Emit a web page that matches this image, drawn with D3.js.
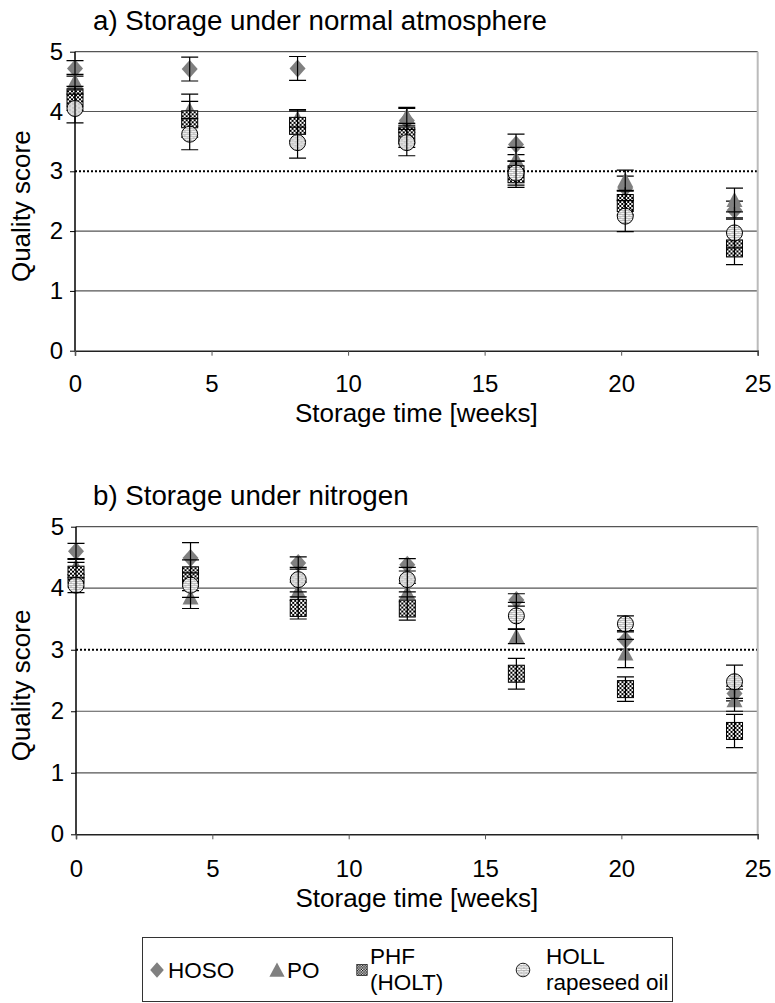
<!DOCTYPE html>
<meta charset="utf-8">
<title>Quality score during storage</title>
<style>
body { margin: 0; background: #fff; }
svg { display: block; font-family: "Liberation Sans", Arial, sans-serif; }
</style>
<script src="https://d3js.org/d3.v7.min.js"></script>
<body>
<script>

// storage time of each sampling (weeks)
var weeks = [0, 4.2, 8.15, 12.15, 16.15, 20.15, 24.15];

var xTicks = [0, 5, 10, 15, 20, 25];
var yTicks = [0, 1, 2, 3, 4, 5];
var limitScore = 3;   // dotted line

// a) normal atmosphere
var hosoA    = [4.72, 4.71, 4.72, 3.85, 3.45, 2.72, 2.35];
var hosoAErr = [0.13, 0.20, 0.20, 0.20, 0.17, 0.20, 0.15];
var poA      = [4.50, 4.02, 3.88, 3.92, 3.20, 2.85, 2.52];
var poAErr   = [0.12, 0.27, 0.15, 0.15, 0.20, 0.17, 0.20];
var phfA     = [4.22, 3.87, 3.76, 3.60, 2.95, 2.47, 1.71];
var phfAErr  = [0.20, 0.30, 0.25, 0.20, 0.22, 0.20, 0.27];
var hollA    = [4.05, 3.62, 3.48, 3.48, 2.97, 2.25, 1.97];
var hollAErr = [0.24, 0.26, 0.26, 0.22, 0.20, 0.26, 0.25];

// b) nitrogen
var hosoB    = [4.60, 4.49, 4.41, 4.38, 3.81, 3.16, 2.29];
var hosoBErr = [0.13, 0.25, 0.10, 0.10, 0.10, 0.15, 0.12];
var poB      = [4.35, 3.85, 3.95, 3.93, 3.22, 2.94, 2.18];
var poBErr   = [0.13, 0.18, 0.15, 0.15, 0.12, 0.23, 0.18];
var phfB     = [4.22, 4.21, 3.68, 3.67, 2.61, 2.36, 1.68];
var phfBErr  = [0.20, 0.25, 0.18, 0.19, 0.25, 0.20, 0.27];
var hollB    = [4.05, 4.05, 4.14, 4.14, 3.55, 3.42, 2.48];
var hollBErr = [0.12, 0.20, 0.20, 0.20, 0.22, 0.13, 0.27];

var seriesKeys = ["hoso", "po", "phf", "holl"];
var legendLabels = [["HOSO"], ["PO"], ["PHF", "(HOLT)"], ["HOLL", "rapeseed oil"]];

var width = 775, height = 1003;

var svg = d3.select("body").append("svg")
    .attr("width", width)
    .attr("height", height);

// fill patterns
var defs = svg.append("defs");
var chk = defs.append("pattern")
    .attr("id", "checker")
    .attr("patternUnits", "userSpaceOnUse")
    .attr("width", 4).attr("height", 4);
chk.append("rect").attr("width", 4).attr("height", 4).attr("fill", "#fff");
chk.append("rect").attr("width", 2).attr("height", 2).attr("fill", "#000");
chk.append("rect").attr("x", 2).attr("y", 2).attr("width", 2).attr("height", 2).attr("fill", "#000");

var brick = defs.append("pattern")
    .attr("id", "brick")
    .attr("patternUnits", "userSpaceOnUse")
    .attr("width", 6).attr("height", 4);
brick.append("rect").attr("width", 6).attr("height", 4).attr("fill", "#fff");
brick.append("path")
    .attr("d", "M0,0.5H6M1,0.5V2.5M0,2.5H6M4,2.5V4")
    .attr("stroke", "#888").attr("stroke-width", 0.6).attr("fill", "none");

function marker(sel, key) {
  if (key == "hoso") {
    sel.append("path").attr("d", "M0,-9L8,0L0,9L-8,0Z").attr("fill", "#808080");
  } else if (key == "po") {
    sel.append("path").attr("d", "M0,-8L8,7L-8,7Z").attr("fill", "#808080");
  } else if (key == "phf") {
    sel.append("rect").attr("x", -8).attr("y", -8.5).attr("width", 16).attr("height", 17)
        .attr("fill", "url(#checker)").attr("stroke", "#000").attr("stroke-width", 1);
  } else {
    sel.append("circle").attr("r", 8)
        .attr("fill", "url(#brick)").attr("stroke", "#000").attr("stroke-width", 1);
  }
}

var panels = [
  { title: "a) Storage under normal atmosphere", titleY: 30, top: 51.7, bottom: 350.7, left: 75,
    tickPad: 19, xTitleGap: 71,
    series: { hoso: [hosoA, hosoAErr], po: [poA, poAErr], phf: [phfA, phfAErr], holl: [hollA, hollAErr] } },
  { title: "b) Storage under nitrogen", titleY: 505, top: 526.7, bottom: 834.3, left: 76,
    tickPad: 21, xTitleGap: 73,
    series: { hoso: [hosoB, hosoBErr], po: [poB, poBErr], phf: [phfB, phfBErr], holl: [hollB, hollBErr] } }
];

panels.forEach(function(p) {
  var right = 757.7;
  var x = d3.scaleLinear().domain([0, 25]).range([p.left, right]);
  var y = d3.scaleLinear().domain([0, 5]).range([p.bottom, p.top]);
  var g = svg.append("g");

  // gridlines
  g.selectAll("line.grid")
      .data(yTicks.filter(function(d) { return d > 0; }))
    .enter().append("line")
      .attr("x1", p.left).attr("x2", right)
      .attr("y1", y).attr("y2", y)
      .attr("stroke", function(d) { return d == limitScore ? "#000" : "#555"; })
      .attr("stroke-width", function(d) { return d == limitScore ? 2 : 1.2; })
      .attr("stroke-dasharray", function(d) { return d == limitScore ? "2,2" : null; });

  // right border
  g.append("line")
      .attr("x1", right).attr("x2", right)
      .attr("y1", p.top).attr("y2", p.bottom)
      .attr("stroke", "#bbb").attr("stroke-width", 2);

  // x axis
  var xAxis = g.append("g")
      .attr("transform", "translate(0," + p.bottom + ")")
      .call(d3.axisBottom(x).tickValues(xTicks).tickFormat(d3.format("d")).tickSize(5).tickPadding(p.tickPad));
  xAxis.select(".domain").attr("stroke", "#222").attr("stroke-width", 1.5);
  xAxis.selectAll(".tick line").attr("stroke", "#555");
  xAxis.selectAll("text").attr("font-size", 24).attr("fill", "#000")
      .attr("font-family", "Liberation Sans, Arial, sans-serif");

  // y axis
  var yAxis = g.append("g")
      .attr("transform", "translate(" + p.left + ",0)")
      .call(d3.axisLeft(y).tickValues(yTicks).tickFormat(d3.format("d")).tickSize(5).tickPadding(7));
  yAxis.select(".domain").attr("stroke", "#000").attr("stroke-width", 1.5)
      .attr("d", "M0," + p.top + "V" + p.bottom);
  yAxis.selectAll("text").attr("font-size", 24).attr("fill", "#000")
      .attr("font-family", "Liberation Sans, Arial, sans-serif");

  // titles
  svg.append("text").attr("x", 93).attr("y", p.titleY)
      .attr("font-size", 27.7).text(p.title);
  svg.append("text")
      .attr("x", (p.left + right) / 2).attr("y", p.bottom + p.xTitleGap)
      .attr("text-anchor", "middle").attr("font-size", 26)
      .text("Storage time [weeks]");
  svg.append("text")
      .attr("transform", "translate(30," + ((p.top + p.bottom) / 2 + 5) + ") rotate(-90)")
      .attr("text-anchor", "middle").attr("font-size", 26)
      .text("Quality score");

  // series: marker then error bar
  seriesKeys.forEach(function(key) {
    var vals = p.series[key][0], errs = p.series[key][1];
    var pts = weeks.map(function(w, i) { return { w: w, v: vals[i], e: errs[i] }; });
    var s = g.selectAll("g.pt-" + key)
        .data(pts)
      .enter().append("g")
        .attr("class", "pt-" + key)
        .attr("transform", function(d) { return "translate(" + x(d.w) + "," + y(d.v) + ")"; });
    s.call(marker, key);
    s.append("path")
        .attr("d", function(d) {
          var hi = y(d.v + d.e) - y(d.v), lo = y(d.v - d.e) - y(d.v);
          return "M0," + hi + "V" + lo + "M-8.5," + hi + "H8.5M-8.5," + lo + "H8.5";
        })
        .attr("stroke", "#000").attr("stroke-width", 1.2).attr("fill", "none");
  });
});

// legend
var lg = svg.append("g");
lg.append("rect")
    .attr("x", 142.5).attr("y", 937.5).attr("width", 530).attr("height", 64)
    .attr("fill", "#fff").attr("stroke", "#333").attr("stroke-width", 1);

var legendX = [157, 277, 362, 523];
var legendScale = [0.85, 0.95, 0.65, 0.85];
var textX = [168, 287, 370, 546];
seriesKeys.forEach(function(key, i) {
  lg.append("g")
      .attr("transform", "translate(" + legendX[i] + ",970) scale(" + legendScale[i] + ")")
      .call(marker, key);
  var t = lg.append("text").attr("font-size", 22.5).attr("x", textX[i]);
  var lines = legendLabels[i];
  if (lines.length == 1) {
    t.attr("y", 978).text(lines[0]);
  } else {
    t.append("tspan").attr("x", textX[i]).attr("y", 964).text(lines[0]);
    t.append("tspan").attr("x", textX[i]).attr("y", 990).text(lines[1]);
  }
});

</script>
